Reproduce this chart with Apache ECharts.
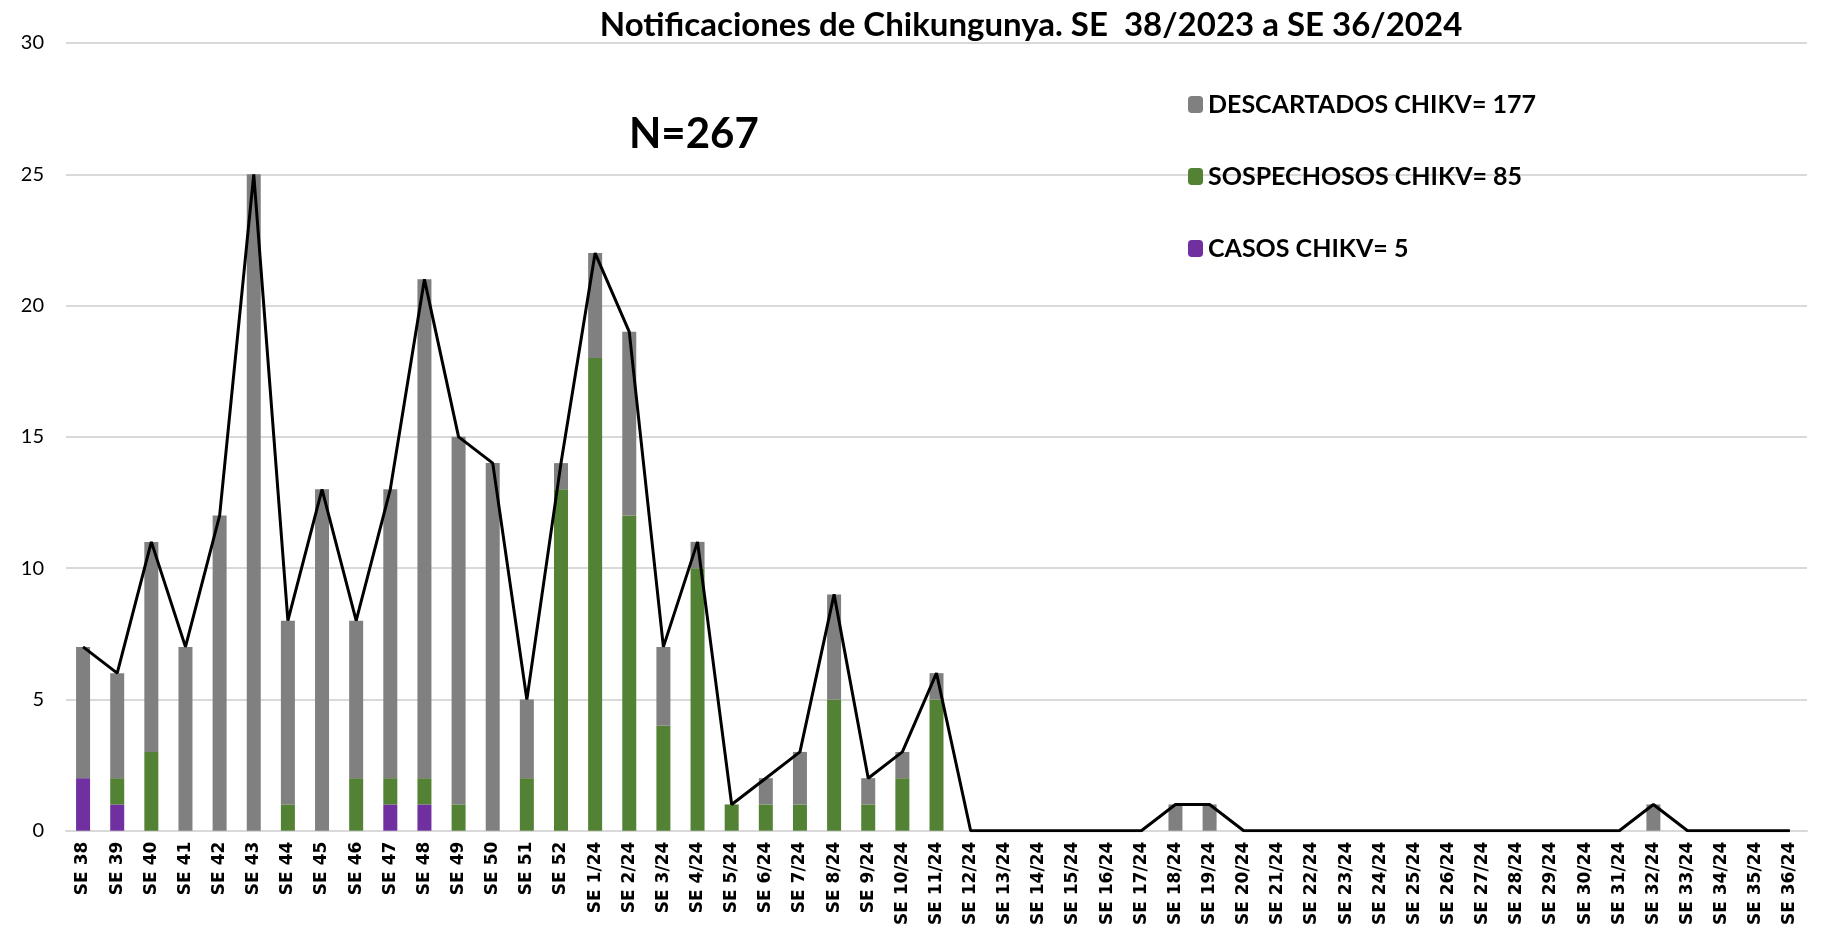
<!DOCTYPE html>
<html>
<head>
<meta charset="utf-8">
<script src="https://cdn.jsdelivr.net/npm/echarts@6/dist/echarts.min.js"></script>
<style>
  html, body { margin: 0; padding: 0; background: #fff; }
  #chikv { width: 1822px; height: 928px; }
</style>
</head>
<body>
<div id="chikv"></div>
<script>
const semanas = [
  'SE 38', 'SE 39', 'SE 40', 'SE 41', 'SE 42', 'SE 43', 'SE 44', 'SE 45', 'SE 46', 'SE 47',
  'SE 48', 'SE 49', 'SE 50', 'SE 51', 'SE 52',
  'SE 1/24', 'SE 2/24', 'SE 3/24', 'SE 4/24', 'SE 5/24', 'SE 6/24', 'SE 7/24', 'SE 8/24',
  'SE 9/24', 'SE 10/24', 'SE 11/24', 'SE 12/24', 'SE 13/24', 'SE 14/24', 'SE 15/24',
  'SE 16/24', 'SE 17/24', 'SE 18/24', 'SE 19/24', 'SE 20/24', 'SE 21/24', 'SE 22/24',
  'SE 23/24', 'SE 24/24', 'SE 25/24', 'SE 26/24', 'SE 27/24', 'SE 28/24', 'SE 29/24',
  'SE 30/24', 'SE 31/24', 'SE 32/24', 'SE 33/24', 'SE 34/24', 'SE 35/24', 'SE 36/24'
];

const casos = [2, 1, 0, 0, 0, 0, 0, 0, 0, 1, 1, 0, 0, 0, 0,
  0, 0, 0, 0, 0, 0, 0, 0, 0, 0, 0, 0, 0, 0, 0, 0, 0, 0, 0, 0, 0, 0, 0, 0, 0, 0, 0, 0, 0, 0, 0, 0, 0, 0, 0, 0];
const sospechosos = [0, 1, 3, 0, 0, 0, 1, 0, 2, 1, 1, 1, 0, 2, 13,
  18, 12, 4, 10, 1, 1, 1, 5, 1, 2, 5, 0, 0, 0, 0, 0, 0, 0, 0, 0, 0, 0, 0, 0, 0, 0, 0, 0, 0, 0, 0, 0, 0, 0, 0, 0];
const descartados = [5, 4, 8, 7, 12, 25, 7, 13, 6, 11, 19, 14, 14, 3, 1,
  4, 7, 3, 1, 0, 1, 2, 4, 1, 1, 1, 0, 0, 0, 0, 0, 0, 1, 1, 0, 0, 0, 0, 0, 0, 0, 0, 0, 0, 0, 0, 1, 0, 0, 0, 0];
const totales = [7, 6, 11, 7, 12, 25, 8, 13, 8, 13, 21, 15, 14, 5, 14,
  22, 19, 7, 11, 1, 2, 3, 9, 2, 3, 6, 0, 0, 0, 0, 0, 0, 1, 1, 0, 0, 0, 0, 0, 0, 0, 0, 0, 0, 0, 0, 1, 0, 0, 0, 0];

const yTicks = [0, 5, 10, 15, 20, 25, 30];

var chartDom = document.getElementById('chikv');
var myChart = echarts.init(chartDom);

const option = {
  animation: false,
  title: [
    {
      text: 'Notificaciones de Chikungunya. SE  38/2023 a SE 36/2024',
      left: 1026,
      textAlign: 'center',
      top: 4,
      textStyle: { fontFamily: 'Lato', fontWeight: 'bold', fontSize: 33, color: '#000' }
    },
    {
      text: 'N=267',
      left: 624,
      top: 108,
      textStyle: { fontFamily: 'Lato', fontWeight: 'bold', fontSize: 42, color: '#000' }
    }
  ],
  legend: {
    orient: 'vertical',
    left: 1183,
    top: 87,
    itemGap: 47,
    itemWidth: 15,
    itemHeight: 17,
    data: ['DESCARTADOS CHIKV= 177', 'SOSPECHOSOS CHIKV= 85', 'CASOS CHIKV= 5'],
    textStyle: { fontFamily: 'Lato', fontWeight: 'bold', fontSize: 25, color: '#000' }
  },
  grid: { left: 66, right: 15, top: 43, bottom: 95, containLabel: false },
  xAxis: {
    type: 'category',
    data: semanas,
    axisLine: { lineStyle: { color: '#d9d9d9', width: 2 } },
    axisTick: { show: false },
    axisLabel: {
      interval: 0,
      rotate: 90,
      margin: 11,
      fontFamily: 'DejaVu Sans',
      fontWeight: 'bold',
      fontSize: 17,
      color: '#000'
    }
  },
  yAxis: {
    type: 'value',
    min: yTicks[0],
    max: yTicks[yTicks.length - 1],
    interval: 5,
    axisLine: { show: false },
    axisTick: { show: false },
    splitLine: { lineStyle: { color: '#d9d9d9', width: 2 } },
    axisLabel: { fontFamily: 'Lato', fontSize: 20, color: '#000', margin: 22 }
  },
  series: [
    {
      name: 'CASOS CHIKV= 5',
      type: 'bar',
      stack: 'chikv',
      barWidth: 14,
      itemStyle: { color: '#7030a0' },
      data: casos
    },
    {
      name: 'SOSPECHOSOS CHIKV= 85',
      type: 'bar',
      stack: 'chikv',
      barWidth: 14,
      itemStyle: { color: '#548235' },
      data: sospechosos
    },
    {
      name: 'DESCARTADOS CHIKV= 177',
      type: 'bar',
      stack: 'chikv',
      barWidth: 14,
      itemStyle: { color: '#808080' },
      data: descartados
    },
    {
      name: 'Total',
      type: 'line',
      showSymbol: false,
      symbol: 'none',
      lineStyle: { color: '#000', width: 3 },
      data: totales,
      z: 5
    }
  ]
};
option && myChart.setOption(option);
</script>
</body>
</html>
